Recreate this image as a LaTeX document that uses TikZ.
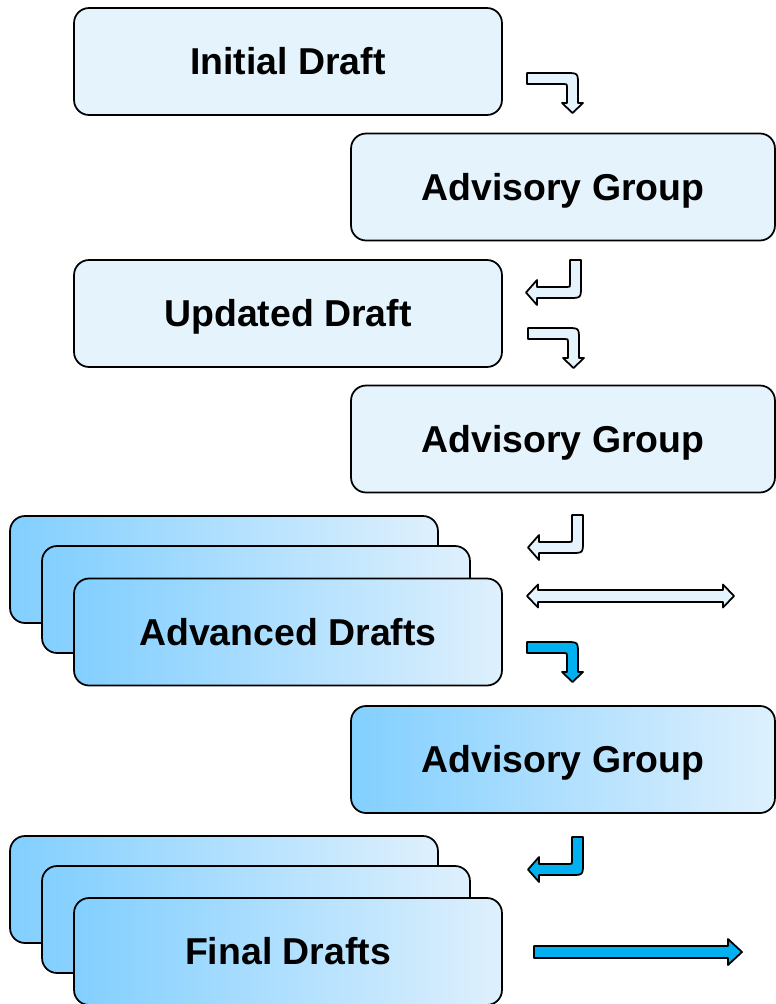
\documentclass[tikz,border=0pt]{standalone}
\usepackage{fontspec}
\setmainfont{Liberation Sans}
\definecolor{paleblue}{RGB}{228,243,252}
\definecolor{deepblue}{RGB}{130,207,255}
\definecolor{fadeblue}{RGB}{222,240,253}
\definecolor{arrowblue}{RGB}{0,176,240}

% block arrows, drawn at a named coordinate
\newcommand{\bentright}[2]{%
  \draw[blkarrow, fill=#2, shift={(#1)}] (0,0) -- (39,0) .. controls (51,0) .. (51,12)
    -- (51,30) -- (56,30) -- (45.5,40) -- (35,30) -- (40,30) -- (40,14)
    .. controls (40,11) .. (37,11) -- (0,11) -- cycle;}
\newcommand{\bentleft}[2]{%
  \draw[blkarrow, fill=#2, shift={(#1)}] (0,0) -- (0,26) .. controls (0,38) .. (-12,38)
    -- (-44,38) -- (-44,45) -- (-55,32.5) -- (-44,20) -- (-44,27) -- (-14,27)
    .. controls (-11,27) .. (-11,24) -- (-11,0) -- cycle;}

\begin{document}
\begin{tikzpicture}[x=0.02cm, y=-0.02cm]
	\tikzset{drbox/.style={rectangle, rounded corners=0.3cm, draw, line width=1pt,
				minimum width=8.56cm, minimum height=2.14cm, inner sep=0pt,
				text height=15.3pt, text depth=0pt,
				font=\bfseries\fontsize{21.3}{25}\selectfont}}
	\tikzset{drpale/.style={drbox, fill=paleblue}}
	\tikzset{drshade/.style={drbox, left color=deepblue, right color=fadeblue}}
	\tikzset{blkarrow/.style={draw=black, line width=1pt, line join=round}}

	\useasboundingbox (0,0) rectangle (776,1004);

	\node[drpale] (init) at (288,61.5) {Initial Draft};
	\node[drpale, minimum width=8.48cm] (adv1) at (563,187) {Advisory Group};
	\node[drpale] (upd) at (288,313.5) {Updated Draft};
	\node[drpale, minimum width=8.48cm] (adv2) at (563,439) {Advisory Group};

	\node[drshade] (advc) at (224,569.5) {};
	\node[drshade] (advb) at (256,599.5) {};
	\node[drshade] (adva) at (288,632) {Advanced Drafts};
	\node[drshade, minimum width=8.48cm] (adv3) at (563,759.5) {Advisory Group};

	\node[drshade] (finc) at (224,889.5) {};
	\node[drshade] (finb) at (256,919.5) {};
	\node[drshade] (fina) at (288,951.5) {Final Drafts};

	\coordinate (bend1) at (527,73);
	\coordinate (back1) at (581,260);
	\coordinate (bend2) at (528,328);
	\coordinate (back2) at (583,515);
	\coordinate (bend3) at (527,642);
	\coordinate (back3) at (583,837);
	\coordinate (both) at (527,596);
	\coordinate (out) at (534,952);

	\bentright{bend1}{paleblue}
	\bentleft{back1}{paleblue}
	\bentright{bend2}{paleblue}
	\bentleft{back2}{paleblue}
	\bentright{bend3}{arrowblue}
	\bentleft{back3}{arrowblue}

	\draw[blkarrow, fill=paleblue, shift={(both)}] (0,0) -- (11,-11.5) -- (11,-6)
		-- (196,-6) -- (196,-11.5) -- (207,0) -- (196,11.5) -- (196,6) -- (11,6)
		-- (11,11.5) -- cycle;
	\draw[blkarrow, fill=arrowblue, shift={(out)}] (0,-6) -- (194,-6) -- (194,-13)
		-- (208,0) -- (194,13) -- (194,6) -- (0,6) -- cycle;
\end{tikzpicture}
\end{document}
